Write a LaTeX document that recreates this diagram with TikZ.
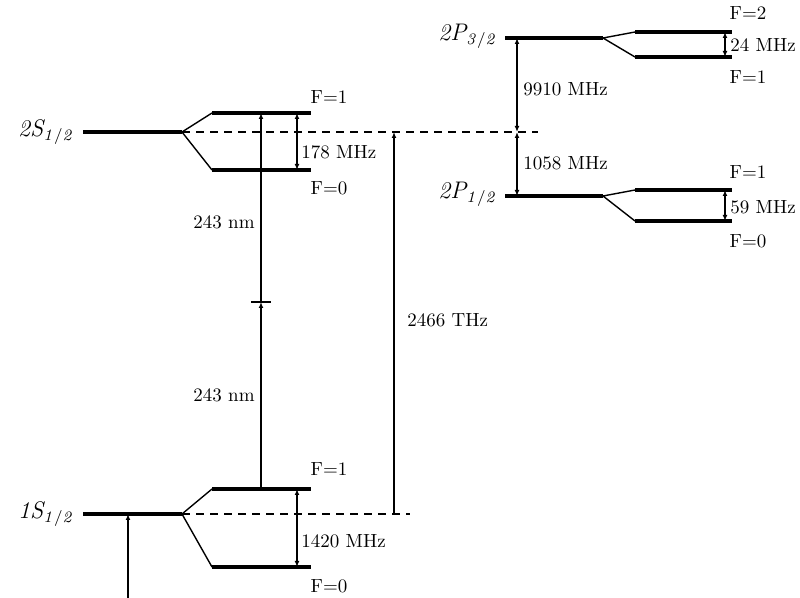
\documentclass[tikz,border=0pt]{standalone}
\usetikzlibrary{arrows.meta}
\newcommand{\diagfont}{\fontsize{9.5}{11}\selectfont}
\newcommand{\termfont}{\fontsize{12}{14}\selectfont}

\begin{document}
\begin{tikzpicture}[
    x=0.5pt, y=-0.5pt,
    level/.style={line width=2pt},
    split/.style={line width=0.7pt},
    gap/.style={{Latex[length=3pt,width=2.4pt]}-{Latex[length=3pt,width=2.4pt]}, line width=0.6pt},
    arr/.style={-{Latex[length=3pt,width=2.4pt]}, line width=0.6pt},
    ref/.style={dash pattern=on 4pt off 3pt, line width=0.6pt},
    lbl/.style={font=\diagfont, inner sep=1pt},
    term/.style={font=\termfont, inner sep=1pt, anchor=east}
  ]
  \useasboundingbox (0,0) rectangle (800,598);

  % 2S_{1/2}
  \coordinate (s2l) at (83,132);   \coordinate (s2r) at (182,132);
  \coordinate (s2al) at (212,113); \coordinate (s2ar) at (311,113);
  \coordinate (s2bl) at (212,170); \coordinate (s2br) at (311,170);
  \coordinate (s2d) at (538,132);
  % 1S_{1/2}
  \coordinate (s1l) at (83,514);   \coordinate (s1r) at (182,514);
  \coordinate (s1al) at (212,489); \coordinate (s1ar) at (311,489);
  \coordinate (s1bl) at (212,567); \coordinate (s1br) at (311,567);
  \coordinate (s1d) at (410,514);
  % 2P_{3/2}
  \coordinate (p3l) at (505,38);   \coordinate (p3r) at (603,38);
  \coordinate (p3al) at (635,32);  \coordinate (p3ar) at (732,32);
  \coordinate (p3bl) at (635,57);  \coordinate (p3br) at (732,57);
  % 2P_{1/2}
  \coordinate (p1l) at (505,196);  \coordinate (p1r) at (603,196);
  \coordinate (p1al) at (635,190); \coordinate (p1ar) at (732,190);
  \coordinate (p1bl) at (635,221); \coordinate (p1br) at (732,221);

  \node[term] (t2s) at (77,132) {$\mathit{2S_{1/2}}$};
  \node[term] (t1s) at (77,514) {$\mathit{1S_{1/2}}$};
  \node[term] (t2p3) at (500,36) {$\mathit{2P_{3/2}}$};
  \node[term] (t2p1) at (500,194) {$\mathit{2P_{1/2}}$};

  \draw[level] (s2l) -- (s2r);
  \draw[level] (s2al) -- (s2ar);
  \draw[level] (s2bl) -- (s2br);
  \draw[split] (s2al) -- (s2r) -- (s2bl);
  \draw[ref] (s2r) -- (s2d);

  \draw[level] (s1l) -- (s1r);
  \draw[level] (s1al) -- (s1ar);
  \draw[level] (s1bl) -- (s1br);
  \draw[split] (s1al) -- (s1r) -- (s1bl);
  \draw[ref, line width=1.1pt] (s1r) -- (s1d);

  \draw[level] (p3l) -- (p3r);
  \draw[level] (p3al) -- (p3ar);
  \draw[level] (p3bl) -- (p3br);
  \draw[split] (p3al) -- (p3r) -- (p3bl);

  \draw[level] (p1l) -- (p1r);
  \draw[level] (p1al) -- (p1ar);
  \draw[level] (p1bl) -- (p1br);
  \draw[split] (p1al) -- (p1r) -- (p1bl);

  % hyperfine labels
  \node[lbl] (f2s1) at (329,97) {F=1};
  \node[lbl] (f2s0) at (329,188) {F=0};
  \node[lbl] (f1s1) at (329,469) {F=1};
  \node[lbl] (f1s0) at (329,586) {F=0};
  \node[lbl] (fp32) at (748,13) {F=2};
  \node[lbl] (fp31) at (748,77) {F=1};
  \node[lbl] (fp11) at (748,172) {F=1};
  \node[lbl] (fp10) at (748,241) {F=0};

  % splittings
  \coordinate (g2a) at (297,113);  \coordinate (g2b) at (297,170);
  \draw[gap] (g2a) -- (g2b);
  \node[lbl, anchor=west] (hfs2) at (299,152) {178 MHz};
  \coordinate (g1a) at (297,489);  \coordinate (g1b) at (297,567);
  \draw[gap] (g1a) -- (g1b);
  \node[lbl, anchor=west] (hfs1) at (299,541) {1420 MHz};
  \coordinate (g3a) at (725,32);   \coordinate (g3b) at (725,57);
  \draw[gap] (g3a) -- (g3b);
  \node[lbl, anchor=west] (hfp3) at (728,45) {24 MHz};
  \coordinate (g4a) at (725,190);  \coordinate (g4b) at (725,221);
  \draw[gap] (g4a) -- (g4b);
  \node[lbl, anchor=west] (hfp1) at (728,207) {59 MHz};

  % fine structure and Lamb shift
  \coordinate (fsa) at (517,38);   \coordinate (fsb) at (517,132);
  \coordinate (fsc) at (517,196);
  \draw[gap] (fsa) -- (fsb);
  \draw[gap] (fsb) -- (fsc);
  \node[lbl, anchor=west] (fine) at (521,89) {9910 MHz};
  \node[lbl, anchor=west] (lamb) at (521,163) {1058 MHz};

  % two-photon excitation
  \coordinate (twa) at (261,489);  \coordinate (twb) at (261,302);
  \coordinate (twc) at (261,113);
  \coordinate (tickl) at (251,302); \coordinate (tickr) at (271,302);
  \draw[arr] (twa) -- (twb);
  \draw[arr] (twb) -- (twc);
  \draw[line width=0.6pt] (tickl) -- (tickr);
  \node[lbl, anchor=east] (nm1) at (257,222) {243 nm};
  \node[lbl, anchor=east] (nm2) at (257,395) {243 nm};

  % 1S-2S interval
  \coordinate (ia) at (394,514);   \coordinate (ib) at (394,132);
  \draw[arr] (ia) -- (ib);
  \node[lbl, anchor=west] (thz) at (405,320) {2466 THz};

  \coordinate (gnd) at (128,598);  \coordinate (gtop) at (128,514);
  \draw[arr, line width=1pt] (gnd) -- (gtop);
\end{tikzpicture}
\end{document}
